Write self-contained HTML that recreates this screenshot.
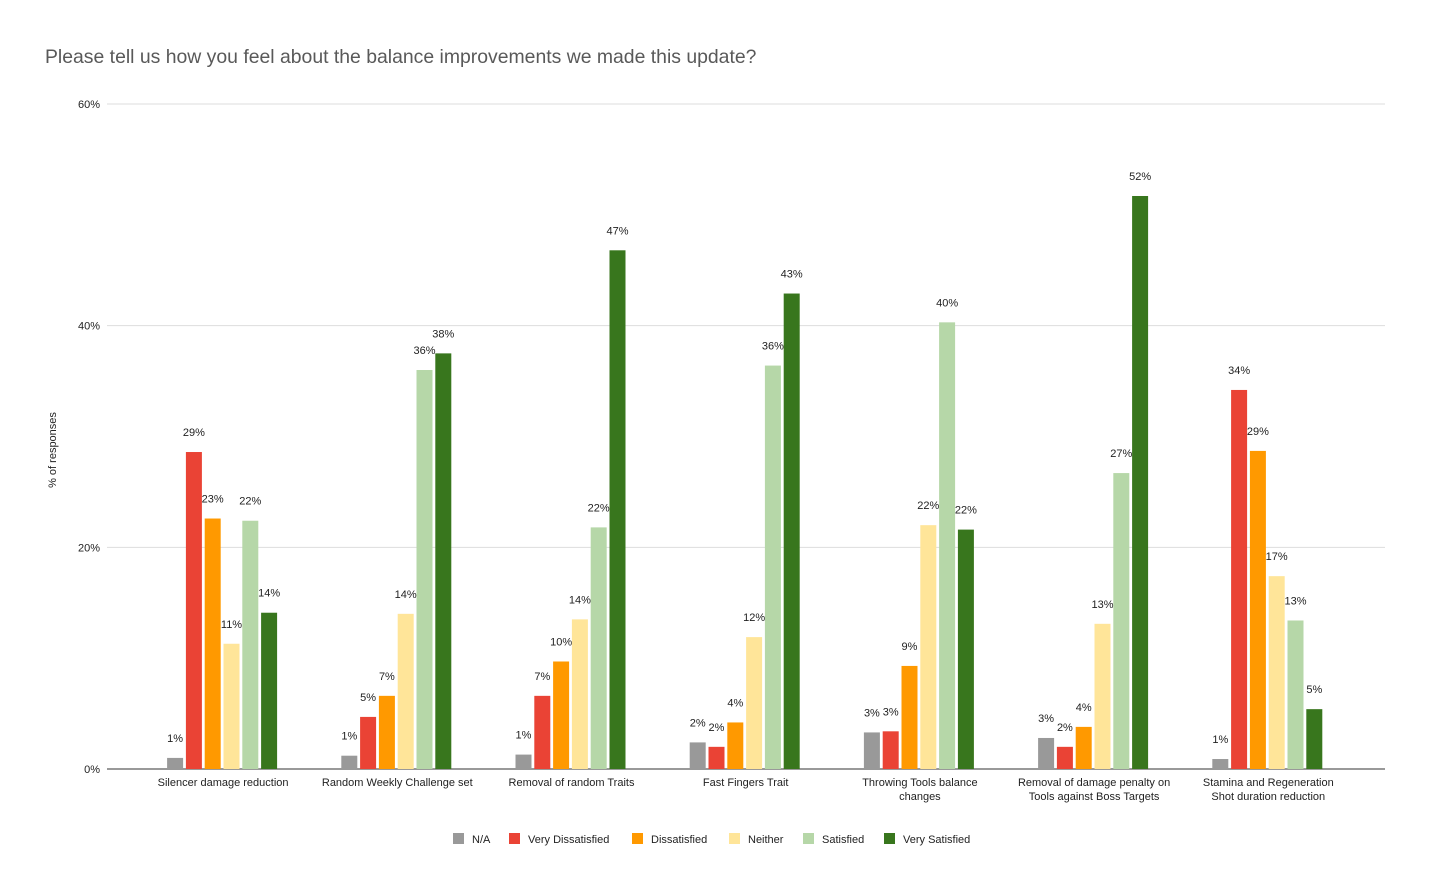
<!DOCTYPE html>
<html><head><meta charset="utf-8"><style>
body{margin:0;background:#fff;font-family:"Liberation Sans",Arial,sans-serif;}
svg text{font-family:"Liberation Sans",Arial,sans-serif;}
</style></head><body>
<svg id="chart" width="1430" height="891" xmlns="http://www.w3.org/2000/svg">
<rect width="1430" height="891" fill="#fff"/>
<text x="45" y="63" font-size="19.4" fill="#595959">Please tell us how you feel about the balance improvements we made this update?</text>
<text transform="translate(56,450) rotate(-90)" text-anchor="middle" font-size="11" fill="#222">% of responses</text>
<g id="grid"></g><g id="bars"></g><g id="legend"></g>
</svg>
<script>
const categories=[["Silencer damage reduction"],["Random Weekly Challenge set"],["Removal of random Traits"],["Fast Fingers Trait"],["Throwing Tools balance","changes"],["Removal of damage penalty on","Tools against Boss Targets"],["Stamina and Regeneration","Shot duration reduction"]];
const seriesNames=["N/A","Very Dissatisfied","Dissatisfied","Neither","Satisfied","Very Satisfied"];
const naVals=[1.0,1.2,1.3,2.4,3.3,2.8,0.9];
const veryDissVals=[28.6,4.7,6.6,2.0,3.4,2.0,34.2];
const dissVals=[22.6,6.6,9.7,4.2,9.3,3.8,28.7];
const neitherVals=[11.3,14.0,13.5,11.9,22.0,13.1,17.4];
const satVals=[22.4,36.0,21.8,36.4,40.3,26.7,13.4];
const verySatVals=[14.1,37.5,46.8,42.9,21.6,51.7,5.4];
const yTicks=[0,20,40,60];
const series=[naVals,veryDissVals,dissVals,neitherVals,satVals,verySatVals];
const colors=["#999999","#ea4335","#ff9900","#ffe599","#b6d7a8","#38761d"];
const NS="http://www.w3.org/2000/svg";
const y=v=>769-v*(665/60);
const x0=136,bandW=174.2;
const cx=i=>x0+bandW*(i+0.5);
function mk(t,a,p){const e=document.createElementNS(NS,t);for(const k in a)e.setAttribute(k,a[k]);p.appendChild(e);return e;}
const grid=document.getElementById('grid');
yTicks.forEach(t=>{
 const l=mk('line',{x1:107,x2:1385,y1:y(t),y2:y(t),stroke:t===0?'#333':'#ddd','stroke-width':1},grid);
 
 
 const tx=mk('text',{x:100,y:y(t)+4,'text-anchor':'end','font-size':11,fill:'#222'},grid);
 tx.textContent=t+'%';
 
 
});
const bars=document.getElementById('bars');
categories.forEach((c,i)=>{
 c.forEach((line,j)=>{
  const t=mk('text',{x:cx(i),y:786+j*14,'text-anchor':'middle','font-size':11,fill:'#222'},bars);
  t.textContent=line;
  
  
 });
 series.forEach((s,k)=>{
  const bx=cx(i)-56+k*18.8;
  const v=s[i];
  const r=mk('rect',{x:bx,y:y(v),width:16,height:769-y(v),fill:colors[k]},bars);
  
  
  const t=mk('text',{x:bx+8,y:y(v)-16,'text-anchor':'middle','font-size':11,fill:'#222'},bars);
  t.textContent=Math.round(v)+'%';
  
  
 });
});
const lg=document.getElementById('legend');
const lx=[453,509,632,729,803,884];
seriesNames.forEach((n,k)=>{
 const g=mk('g',{},lg);
 
 
 mk('rect',{x:lx[k],y:833,width:11,height:11,fill:colors[k]},g);
 const t=mk('text',{x:lx[k]+19,y:843,'font-size':11,fill:'#222'},g);
 t.textContent=n;
});
</script>
</body></html>
